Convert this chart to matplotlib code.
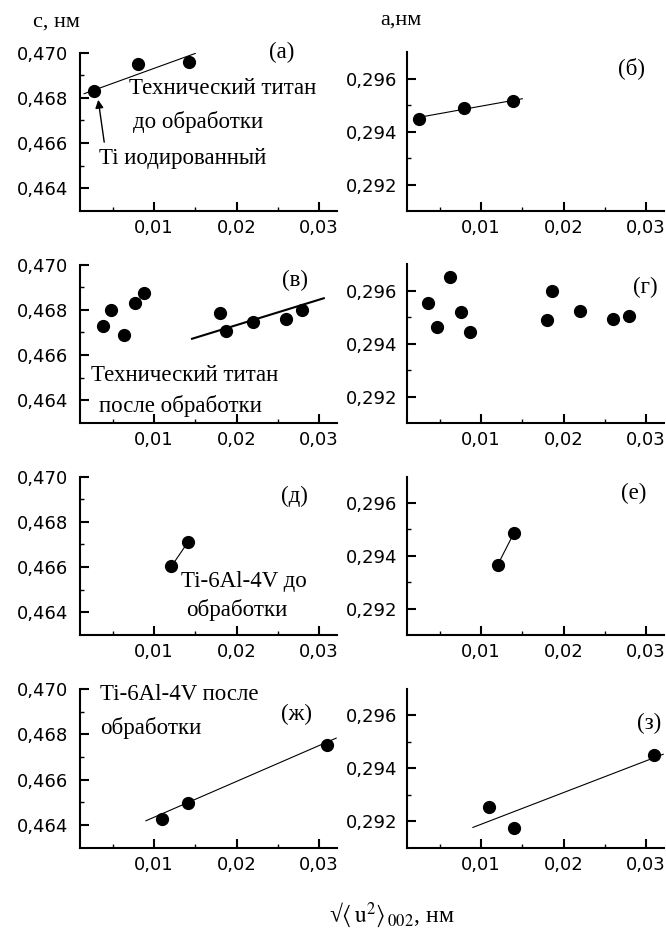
import matplotlib.pyplot as plt
from matplotlib.ticker import FixedLocator, FuncFormatter

plt.rcParams['font.family'] = ['DejaVu Sans']
plt.rcParams['mathtext.fontset'] = 'stix'

SERIF = ['Liberation Serif', 'DejaVu Serif']

# --- data ---
# (а) c, технический титан до обработки
a_x = [0.0027, 0.0080, 0.0142]
a_y = [0.4683, 0.4695, 0.4696]
a_fit_x = [0.0015, 0.0150]
a_fit_y = [0.46818, 0.46996]

# (б) a, технический титан до обработки
b_x = [0.0025, 0.0079, 0.0139]
b_y = [0.29448, 0.29489, 0.29517]
b_fit_x = [0.0020, 0.0150]
b_fit_y = [0.29452, 0.29525]

# (в) c, технический титан после обработки
v_x = [0.0038, 0.0048, 0.0064, 0.0077, 0.0088, 0.0180, 0.0187, 0.0220, 0.0260, 0.0280]
v_y = [0.46728, 0.46797, 0.46687, 0.46831, 0.46873, 0.46787, 0.46706, 0.46747, 0.46760, 0.46801]
v_fit_x = [0.0146, 0.0306]
v_fit_y = [0.46672, 0.46851]

# (г) a, технический титан после обработки
g_x = [0.0036, 0.0046, 0.0062, 0.0076, 0.0087, 0.0180, 0.0186, 0.0220, 0.0260, 0.0280]
g_y = [0.29553, 0.29464, 0.29653, 0.29520, 0.29444, 0.29490, 0.29601, 0.29524, 0.29495, 0.29505]

# (д) c, Ti-6Al-4V до обработки
d_x = [0.0121, 0.0141]
d_y = [0.46603, 0.46710]

# (е) a, Ti-6Al-4V до обработки
e_x = [0.0120, 0.0140]
e_y = [0.29365, 0.29487]

# (ж) c, Ti-6Al-4V после обработки
zh_x = [0.0110, 0.0141, 0.0310]
zh_y = [0.46425, 0.46496, 0.46751]
zh_fit_x = [0.0090, 0.0321]
zh_fit_y = [0.46418, 0.46783]

# (з) a, Ti-6Al-4V после обработки
z_x = [0.0110, 0.0140, 0.0310]
z_y = [0.29253, 0.29174, 0.29451]
z_fit_x = [0.0090, 0.0321]
z_fit_y = [0.29176, 0.29453]

x_major = [0.01, 0.02, 0.03]
x_minor = [0.005, 0.015, 0.025]
c_major = [0.464, 0.466, 0.468, 0.470]
c_minor = [0.465, 0.467, 0.469]
a_major = [0.292, 0.294, 0.296]
a_minor = [0.293, 0.295]

W, H = 666, 933
fig = plt.figure(figsize=(W / 100, H / 100), dpi=100)

bottoms = [211, 423, 635, 847.5]  # px from top of the lower spine


def make_ax(col, row):
    left = 80 if col == 0 else 407
    width = 257
    hgt = 158.5
    ax = fig.add_axes([left / W, (H - bottoms[row]) / H, width / W, hgt / H])
    ax.set_xlim(0.001, 0.0322)
    if col == 0:
        ax.set_ylim(0.463, 0.470)
        ax.yaxis.set_major_locator(FixedLocator(c_major))
        ax.yaxis.set_minor_locator(FixedLocator(c_minor))
        ypad = 8.5
    else:
        ax.set_ylim(0.291, 0.297)
        ax.yaxis.set_major_locator(FixedLocator(a_major))
        ax.yaxis.set_minor_locator(FixedLocator(a_minor))
        ypad = 7
    ax.xaxis.set_major_locator(FixedLocator(x_major))
    ax.xaxis.set_minor_locator(FixedLocator(x_minor))
    ax.xaxis.set_major_formatter(FuncFormatter(lambda v, p: f'{v:.2f}'.replace('.', ',')))
    ax.yaxis.set_major_formatter(FuncFormatter(lambda v, p: f'{v:.3f}'.replace('.', ',')))
    for s in ['top', 'right']:
        ax.spines[s].set_visible(False)
    for s in ['left', 'bottom']:
        ax.spines[s].set_linewidth(1.5)
    ax.tick_params(which='major', direction='in', length=6.5, width=1.5, labelsize=13)
    ax.tick_params(which='minor', direction='in', length=3, width=1.0)
    ax.tick_params(axis='y', which='major', pad=ypad)
    ax.tick_params(axis='x', which='major', pad=6)
    return ax


def dots(ax, x, y):
    ax.plot(x, y, 'o', color='black', ms=8.5, clip_on=False, zorder=3)


def fit(ax, x, y, lw=0.8):
    ax.plot(x, y, '-', color='black', lw=lw, zorder=2)


def label(ax, x, y, s, ha='center'):
    ax.text(x, y, s, ha=ha, va='center', fontsize=16.5, family=SERIF)


# (а)
ax = make_ax(0, 0)
fit(ax, a_fit_x, a_fit_y)
dots(ax, a_x, a_y)
label(ax, 0.0255, 0.4700, '(а)')
label(ax, 0.0069, 0.4684, 'Технический титан', ha='left')
label(ax, 0.00745, 0.46693, 'до обработки', ha='left')
label(ax, 0.0033, 0.46533, 'Ti иодированный', ha='left')
ax.annotate('', xy=(0.00321, 0.46791), xytext=(0.00394, 0.46604),
            arrowprops=dict(arrowstyle='-|>', color='black', lw=1.0,
                            mutation_scale=12, shrinkA=0, shrinkB=0))

# (б)
ax = make_ax(1, 0)
fit(ax, b_fit_x, b_fit_y)
dots(ax, b_x, b_y)
label(ax, 0.0282, 0.29642, '(б)')

# (в)
ax = make_ax(0, 1)
fit(ax, v_fit_x, v_fit_y, lw=1.5)
dots(ax, v_x, v_y)
label(ax, 0.0271, 0.46929, '(в)')
label(ax, 0.00236, 0.4651, 'Технический титан', ha='left')
label(ax, 0.00333, 0.46377, 'после обработки', ha='left')

# (г)
ax = make_ax(1, 1)
dots(ax, g_x, g_y)
label(ax, 0.0299, 0.29614, '(г)')

# (д)
ax = make_ax(0, 2)
ax.plot(d_x, d_y, '-', color='black', lw=0.8)
dots(ax, d_x, d_y)
label(ax, 0.0270, 0.4691, '(д)')
label(ax, 0.01327, 0.46535, 'Ti-6Al-4V до', ha='left')
label(ax, 0.01388, 0.46411, 'обработки', ha='left')

# (е)
ax = make_ax(1, 2)
ax.plot(e_x, e_y, '-', color='black', lw=0.8)
dots(ax, e_x, e_y)
label(ax, 0.0285, 0.29637, '(е)')

# (ж)
ax = make_ax(0, 3)
fit(ax, zh_fit_x, zh_fit_y)
dots(ax, zh_x, zh_y)
label(ax, 0.0273, 0.46886, '(ж)')
label(ax, 0.00345, 0.46975, 'Ti-6Al-4V после', ha='left')
label(ax, 0.00345, 0.46829, 'обработки', ha='left')

# (з)
ax = make_ax(1, 3)
fit(ax, z_fit_x, z_fit_y)
dots(ax, z_x, z_y)
label(ax, 0.0304, 0.29571, '(з)')

fig.text(33 / W, 1 - 22 / H, 'c, нм', ha='left', va='center', fontsize=16, family=SERIF)
fig.text(380 / W, 1 - 20 / H, 'a,нм', ha='left', va='center', fontsize=16, family=SERIF)
fig.text(392 / W, 1 - 915 / H, r'√$\langle\,\mathrm{u}^2\rangle_{\,002}$, нм',
         ha='center', va='center', fontsize=17, family=SERIF)

fig.savefig('out.png', dpi=100)
